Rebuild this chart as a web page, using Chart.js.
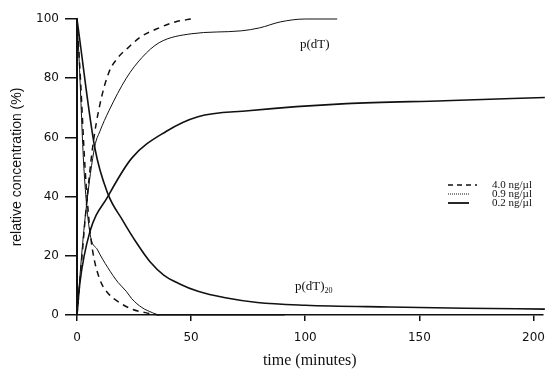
<!DOCTYPE html>
<html>
<head>
<meta charset="utf-8">
<script src="https://cdn.jsdelivr.net/npm/chart.js@4"></script>
<style>
  html, body { margin: 0; padding: 0; background: #fff; }
  #wrap { width: 555px; height: 369px; }
</style>
</head>
<body>
<div id="wrap"><canvas id="myChart" width="555" height="369"></canvas></div>
<script>
// 4.0 ng/ul (dashed)
const t40Rise = [0, 2, 4, 6.9, 10, 14, 18, 22, 28, 36, 43, 50];
const v40Rise = [0, 18, 36, 57, 71, 82, 87, 90, 94, 97, 99, 100];
const t40Fall = [0, 1.5, 3.5, 5.5, 7, 10, 14, 18, 24, 30, 36];
const v40Fall = [100, 80, 50, 30, 21, 12, 7, 4.5, 2, 0.8, 0];

// 0.9 ng/ul (thin line)
const t09Rise = [0, 2, 4, 7.8, 10, 14, 21.6, 28.5, 36, 50, 72, 80, 89, 100, 114];
const v09Rise = [0, 20, 36, 57, 62, 69, 80, 87, 92, 95, 96, 97, 99, 100, 100];
const t09Fall = [0, 1, 3, 5.6, 9, 13.5, 18, 21.6, 24, 28.5, 33, 36, 50, 70, 91];
const v09Fall = [100, 85, 50, 28, 22, 16, 11, 8, 5.5, 2.5, 0.8, 0, 0, 0, 0];

// 0.2 ng/ul (thick line)
const t02Rise = [0, 1.3, 5.6, 13.5, 24, 39, 53, 75, 118, 161, 205];
const v02Rise = [0, 11, 28, 40, 53, 62, 67, 69, 71.4, 72.4, 73.5];
const t02Fall = [0, 7.8, 13.5, 20, 26, 32, 38, 45, 53, 65, 79, 100, 137, 170, 205];
const v02Fall = [100, 56.5, 41, 32, 24.5, 18, 13.5, 10.5, 8, 5.8, 4.2, 3.3, 2.7, 2.3, 2];

const xTicks = [0, 50, 100, 150, 200];
const yTicks = [0, 20, 40, 60, 80, 100];

const pts = (ts, vs) => ts.map((t, i) => ({x: t, y: vs[i]}));
const ink = '#111';

function line(ts, vs, width, dash) {
  return {
    data: pts(ts, vs),
    borderColor: ink,
    borderWidth: width,
    borderDash: dash,
    pointRadius: 0,
    fill: false,
    cubicInterpolationMode: 'monotone',
    clip: 4
  };
}

// legend + curve labels drawn on top
const notes = {
  id: 'notes',
  afterDraw(chart) {
    const c = chart.ctx;
    c.save();
    c.fillStyle = ink;
    c.strokeStyle = ink;
    c.textBaseline = 'middle';
    c.font = '11px "Liberation Serif"';
    const rows = [
      {y: 185, text: '4.0 ng/\u00b5l', w: 1.5, dash: [5, 4], x2: 477},
      {y: 194, text: '0.9 ng/\u00b5l', w: 1, dash: [1, 1], x2: 469},
      {y: 203, text: '0.2 ng/\u00b5l', w: 1.8, dash: [], x2: 469}
    ];
    rows.forEach(r => {
      c.lineWidth = r.w;
      c.setLineDash(r.dash);
      c.beginPath();
      c.moveTo(448, r.y);
      c.lineTo(r.x2, r.y);
      c.stroke();
      c.fillText(r.text, 492, r.y);
    });
    c.setLineDash([]);
    c.font = '13px "Liberation Serif"';
    c.fillText('p(dT)', 300, 45);
    c.fillText('p(dT)', 295, 287);
    const w = c.measureText('p(dT)').width;
    c.font = '8px "Liberation Serif"';
    c.fillText('20', 295 + w, 291);
    c.restore();
  }
};

new Chart(document.getElementById('myChart'), {
  type: 'line',
  data: {
    datasets: [
      line(t40Rise, v40Rise, 1.5, [6, 5]),
      line(t40Fall, v40Fall, 1.5, [6, 5]),
      line(t09Rise, v09Rise, 1, []),
      line(t09Fall, v09Fall, 1, []),
      line(t02Rise, v02Rise, 1.6, []),
      line(t02Fall, v02Fall, 1.6, [])
    ]
  },
  options: {
    responsive: false,
    animation: false,
    layout: { padding: { top: 19, right: 5, left: 0, bottom: 0 } },
    plugins: { legend: { display: false }, tooltip: { enabled: false } },
    scales: {
      x: {
        type: 'linear',
        min: 0,
        max: 204,
        afterFit: s => { s.height = 54; },
        afterBuildTicks: s => { s.ticks = xTicks.map(v => ({value: v})); },
        ticks: { color: ink, font: { family: 'DejaVu Sans', size: 12 }, padding: 10, maxRotation: 0 },
        grid: { drawOnChartArea: false, color: ink, lineWidth: 1.5, tickLength: 6 },
        border: { color: ink, width: 1.5 },
        title: {
          display: true,
          text: 'time (minutes)',
          color: ink,
          font: { family: 'Liberation Serif', size: 16, lineHeight: 1 },
          padding: { top: 0, bottom: 0 }
        }
      },
      y: {
        min: 0,
        max: 100,
        afterFit: s => { s.width = 77; },
        afterBuildTicks: s => { s.ticks = yTicks.map(v => ({value: v})); },
        ticks: { color: ink, font: { family: 'DejaVu Sans', size: 12 }, padding: 6 },
        grid: { drawOnChartArea: false, color: ink, lineWidth: 1.5, tickLength: 12 },
        border: { color: ink, width: 2 },
        title: {
          display: true,
          text: 'relative concentration (%)',
          color: ink,
          font: { family: 'Liberation Sans', size: 14, lineHeight: 1.2 },
          padding: { top: 9, bottom: 0 }
        }
      }
    }
  },
  plugins: [notes]
});
</script>
</body>
</html>
